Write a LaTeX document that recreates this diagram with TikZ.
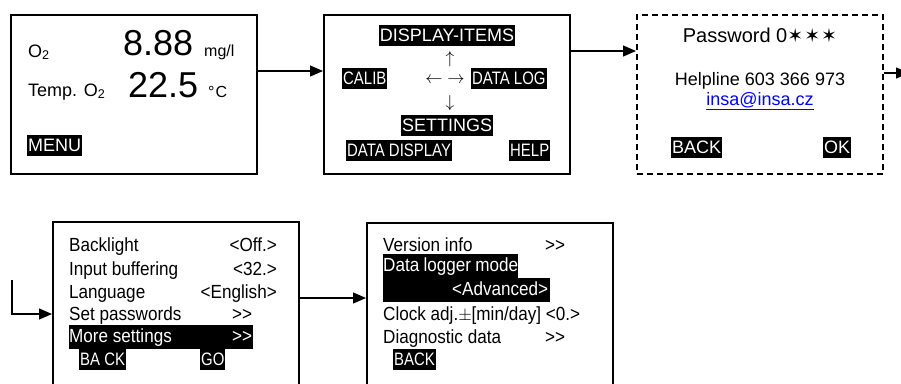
\documentclass[tikz,border=0pt]{standalone}
\usepackage{fontspec}
\setmainfont{Liberation Sans}
\newfontfamily\narrowfont[FakeStretch=0.83]{Liberation Sans}
\newfontfamily\menufont[FakeStretch=0.9]{Liberation Sans}
\newfontfamily\symfont{DejaVu Sans}
\usetikzlibrary{arrows.meta}
\definecolor{linkblue}{RGB}{0,0,255}
\newcommand\nxt{>\kern0pt>}

\begin{document}
\begin{tikzpicture}[x=1pt,y=-1pt,
  screen/.style={draw=black, line width=1.5pt, minimum width=246pt, inner sep=0pt, anchor=north west},
  flow/.style={draw=black, line width=1.3pt, -{Triangle[length=13pt,width=11pt]}},
  lbl/.style={inner sep=0pt, anchor=base west, font=\fontsize{18}{18}\selectfont},
  big/.style={lbl, font=\fontsize{36}{36}\selectfont},
  unit/.style={lbl, font=\fontsize{16}{16}\selectfont},
  hl/.style={fill=black, text=white, inner xsep=1pt, inner ysep=0pt, text height=16pt, text depth=5pt, anchor=north west, font=\fontsize{18}{18}\selectfont},
  hlnarrow/.style={hl, font=\narrowfont\fontsize{18}{18}\selectfont},
  item/.style={inner sep=0pt, anchor=base west, font=\menufont\fontsize{19}{19}\selectfont},
  itemr/.style={item, anchor=base east},
  bar/.style={fill=black, text=white, inner sep=0pt, text height=17pt, text depth=7pt, anchor=north west, font=\menufont\fontsize{19}{19}\selectfont},
  glyph/.style={inner sep=0pt, font=\fontsize{19}{19}\selectfont},
]
\useasboundingbox (0,0) rectangle (901,383);
\fill[white] (0,0) rectangle (901,383);
\clip (0,0) rectangle (901,383);

% main measurement screen
\node[screen, minimum height=159pt] (s1) at (10,14) {};
\node[lbl] (o2) at (28,57) {O\textsubscript{2}};
\node[big] (v1) at (123,55) {8.88};
\node[unit] (u1) at (204,56) {mg/l};
\node[lbl] (t2) at (28,96) {Temp. O\textsubscript{2}};
\node[big] (v2) at (128,97) {22.5};
\node[unit] (u2) at (208,97) {°\kern1pt C};
\node[hl] (menu) at (27,135) {MENU};

% main menu
\node[screen, minimum height=159pt] (s2) at (323,14) {};
\node[hl, anchor=north] (di) at (447,25) {DISPLAY-ITEMS};
\node[hlnarrow] (calib) at (342,68) {CALIB};
\node[hlnarrow] (dlog) at (471,68) {DATA LOG};
\node[hl, anchor=north] (sett) at (447,115) {SETTINGS};
\node[hlnarrow] (ddisp) at (346,140) {DATA DISPLAY};
\node[hlnarrow] (help) at (509,140) {HELP};
\node[glyph] (nup) at (450,59) {$\uparrow$};
\node[glyph] (nleft) at (434,80) {$\leftarrow$};
\node[glyph] (nright) at (456,80) {$\rightarrow$};
\node[glyph] (ndown) at (450,103) {$\downarrow$};

% password screen
\node[screen, dash pattern=on 6pt off 4pt, minimum height=159pt] (s3) at (636,14) {};
\node[lbl, anchor=base, font=\fontsize{20}{20}\selectfont] (pw) at (760,42) {Password 0{\symfont\fontsize{19}{19}\selectfont ✶\hspace{1pt}✶\hspace{1pt}✶}};
\node[lbl, anchor=base] (hline) at (760,85) {Helpline 603 366 973};
\node[lbl, anchor=base, text=linkblue] (mail) at (760,105) {\underline{insa@insa.cz}};
\node[hl] (bk3) at (671,137) {BACK};
\node[hl] (ok3) at (823,137) {OK};

% settings screen
\node[screen, minimum height=200pt] (s4) at (52,221) {};
\node[item] (bl) at (69,251) {Backlight};
\node[itemr] (blv) at (277,251) {<Off.>};
\node[item] (ib) at (69,275) {Input buffering};
\node[itemr] (ibv) at (277,275) {<32.>};
\node[item] (lang) at (69,298) {Language};
\node[itemr] (langv) at (277,298) {<English>};
\node[item] (sp) at (69,320) {Set passwords};
\node[item] (spv) at (232,320) {\nxt};
\node[bar] (more) at (69,325) {\hbox to 184pt{More settings\hfill\nxt\hspace{1pt}}};
\node[hlnarrow] (bk4) at (79,349) {BA CK};
\node[hlnarrow] (go4) at (200,349) {GO};

% more settings screen
\node[screen, minimum height=200pt] (s5) at (366,222) {};
\node[item] (ver) at (383,251) {Version info};
\node[item] (verv) at (545,251) {\nxt};
\node[bar] (dlm) at (383,254) {\hbox to 135pt{Data logger mode\hfill}};
\node[bar] (adv) at (383,278) {\hbox to 167pt{\hfill<Advanced>\hspace{2pt}}};
\node[item] (clk) at (383,320) {Clock adj.$\pm$[min/day] <0.>};
\node[item] (diag) at (383,343) {Diagnostic data};
\node[item] (diagv) at (545,343) {\nxt};
\node[hlnarrow] (bk5) at (393,349) {BACK};

% transitions between screens
\coordinate (entry) at (12,280);
\coordinate (exit) at (909,73);
\draw[flow] (s1.east |- 0,71) -- (s2.west |- 0,71);
\draw[flow] (s2.east |- 0,51) -- (s3.west |- 0,51);
\draw[flow] (s3.east |- exit) -- (exit);
\draw[flow] (entry) |- (s4.west |- 0,314);
\draw[flow] (s4.east |- 0,298) -- (s5.west |- 0,298);
\end{tikzpicture}
\end{document}
